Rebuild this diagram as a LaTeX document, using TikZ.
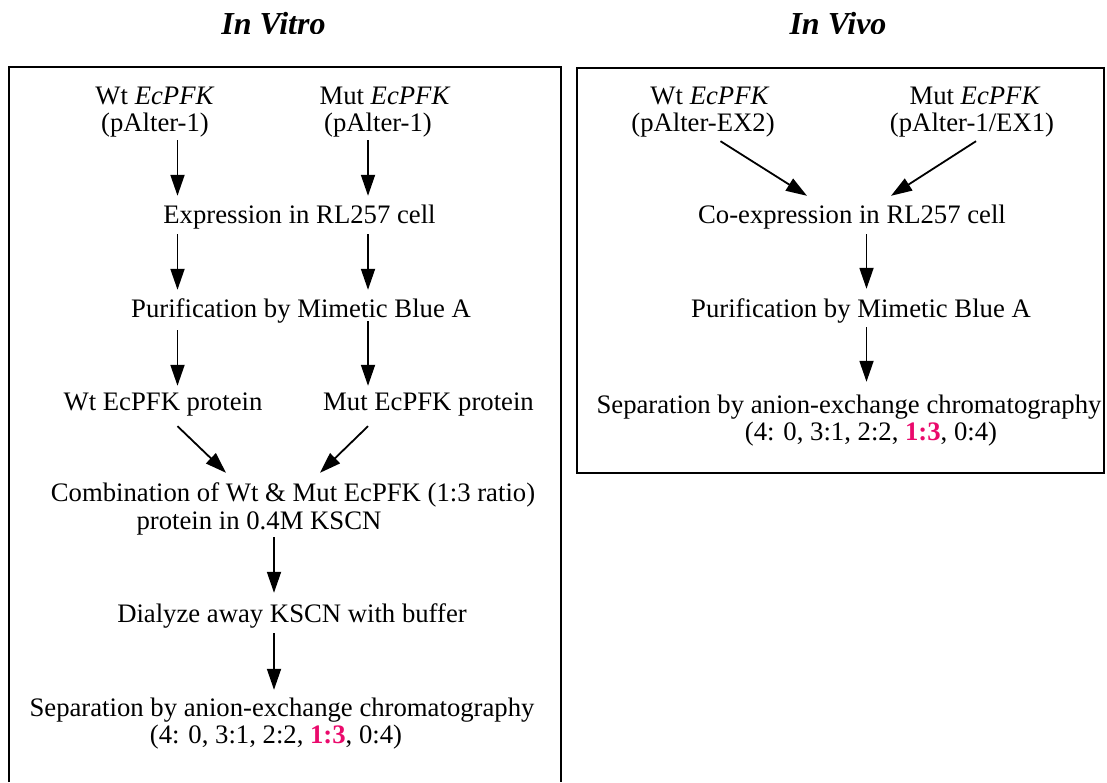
\documentclass[tikz,border=0pt]{standalone}
\usepackage{fontspec}
\setmainfont{Liberation Serif}
\usetikzlibrary{arrows.meta,calc}
\definecolor{ratiopink}{RGB}{234,10,108}
\newcommand{\hl}[1]{\textcolor{ratiopink}{\textbf{#1}}}
\tikzset{
  lbl/.style={anchor=base, inner sep=0pt, text height=19pt, text depth=0pt,
              font=\fontsize{26.7}{30}\selectfont},
  ttl/.style={anchor=base, inner sep=0pt,
              font=\fontsize{32}{36}\selectfont\bfseries\itshape},
  frame/.style={line width=1.7pt},
  arr/.style={line width=1.8pt, -{Triangle[width=14pt,length=21pt]}}
}
\begin{document}
\begin{tikzpicture}[x=1pt,y=-1pt]
\useasboundingbox (0,0) rectangle (1107,782);

% panel headings (cut off just above the baseline)
\begin{scope}
  \clip (0,0) rectangle (1107,33);
  \node[ttl] (tvitro) at (273.5,34) {In Vitro};
  \node[ttl] (tvivo)  at (838,34)   {In Vivo};
\end{scope}

% frames
\draw[frame] (9,782) -- (9,67) -- (561,67) -- (561,782);
\draw[frame] (577,68) rectangle (1104,473);

% ---------- in vitro ----------
\node[lbl] (wt1)  at (155,104)   {Wt \textit{EcPFK}};
\node[lbl] (wt2)  at (155,131)   {(pAlter-1)};
\node[lbl] (mt1)  at (385,104)   {Mut \textit{EcPFK}};
\node[lbl] (mt2)  at (378,131)   {(pAlter-1)};
\node[lbl] (expr) at (299.5,223) {Expression in RL257 cell};
\node[lbl] (purL) at (301,317)   {Purification by Mimetic Blue A};
\node[lbl] (wtp)  at (163,410)   {Wt EcPFK protein};
\node[lbl] (mtp)  at (428.5,410) {Mut EcPFK protein};
\node[lbl] (comb1) at (293,501)  {Combination of Wt \& Mut EcPFK (1:3 ratio)};
\node[lbl] (comb2) at (259,529)  {protein in 0.4M KSCN};
\node[lbl] (dial) at (292,622)   {Dialyze away KSCN with buffer};
\node[lbl] (sepL1) at (282,716)  {Separation by anion-exchange chromatography};
\node[lbl] (sepL2) at (276,743)  {(4: 0, 3:1, 2:2, \hl{1:3}, 0:4)};

\draw[arr] ($(wt2.south)+(22.5,9)$)    -- ($(expr.north)+(-122,-8)$);
\draw[arr] ($(mt2.south)+(-10,9)$)     -- ($(expr.north)+(68.5,-8)$);
\draw[arr] ($(expr.south)+(-122,11)$)  -- ($(purL.north)+(-123.5,-8)$);
\draw[arr] ($(expr.south)+(68.5,11)$)  -- ($(purL.north)+(67,-8)$);
\draw[arr] ($(purL.south)+(-123.5,13)$) -- ($(wtp.north)+(14.5,-5)$);
\draw[arr] ($(purL.south)+(67,4)$)     -- ($(mtp.north)+(-60.5,-5)$);
\draw[arr] ($(wtp.south)+(14.5,16)$)   -- ($(comb1.north)+(-67,-9)$);
\draw[arr] ($(mtp.south)+(-60.5,16)$)  -- ($(comb1.north)+(27,-9)$);
\draw[arr] ($(comb2.south)+(15,8)$)    -- ($(dial.north)+(-18,-10)$);
\draw[arr] ($(dial.south)+(-18,11)$)   -- ($(sepL1.north)+(-8,-7)$);

% ---------- in vivo ----------
\node[lbl] (rwt1) at (710,104)  {Wt \textit{EcPFK}};
\node[lbl] (rwt2) at (703,131)  {(pAlter-EX2)};
\node[lbl] (rmt1) at (975,104)  {Mut \textit{EcPFK}};
\node[lbl] (rmt2) at (972,131)  {(pAlter-1/EX1)};
\node[lbl] (coex) at (852,223)  {Co-expression in RL257 cell};
\node[lbl] (purR) at (861,317)  {Purification by Mimetic Blue A};
\node[lbl] (sepR1) at (849,413) {Separation by anion-exchange chromatography};
\node[lbl] (sepR2) at (871,440) {(4: 0, 3:1, 2:2, \hl{1:3}, 0:4)};

\draw[arr] ($(rwt2.south)+(17.5,10)$) -- ($(coex.north)+(-45,-8)$);
\draw[arr] ($(rmt2.south)+(4,10)$)    -- ($(coex.north)+(39,-8)$);
\draw[arr] ($(coex.south)+(14.5,11)$) -- ($(purR.north)+(5.5,-9)$);
\draw[arr] ($(purR.south)+(5.5,10)$)  -- ($(sepR1.north)+(17.5,-12)$);
\end{tikzpicture}
\end{document}
